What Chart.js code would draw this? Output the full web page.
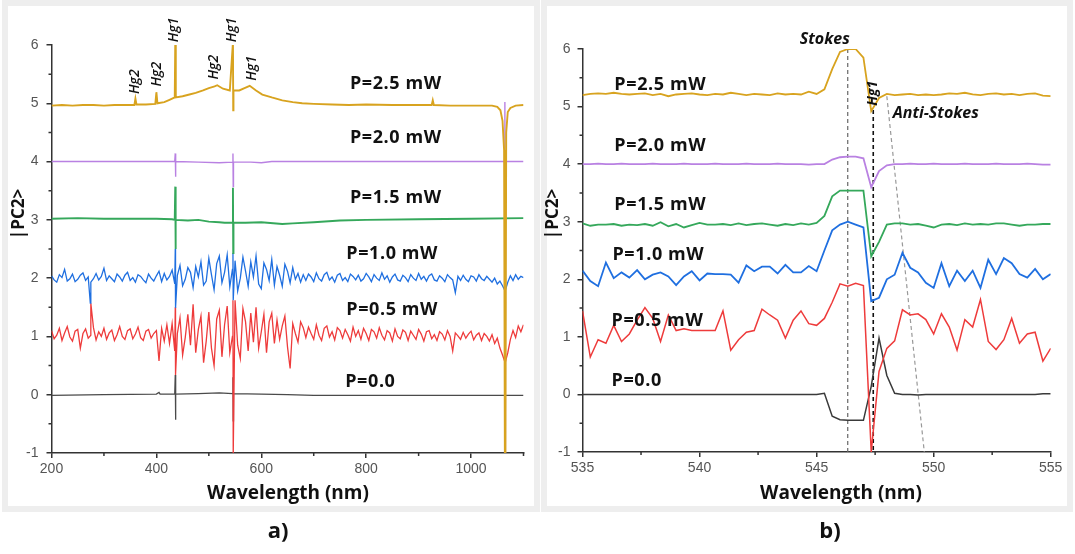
<!DOCTYPE html>
<html>
<head>
<meta charset="utf-8">
<script src="https://cdn.jsdelivr.net/npm/chart.js@4.4.1/dist/chart.umd.min.js"></script>
<style>
  body { margin: 0; width: 1075px; height: 554px; position: relative; overflow: hidden; background: #fff; }
  .frame { position: absolute; top: 0; height: 512px; box-sizing: border-box; border: 6px solid #eeeeee; background: #fff; }
  #frameA { left: 2px; width: 538px; }
  #frameB { left: 541px; width: 532px; }
  canvas { position: absolute; top: 0; }
  #chartA { left: 0; }
  #chartB { left: 540px; }
  .tag { position: absolute; top: 514px; width: 60px; text-align: center; font: bold 22px "Open Sans", sans-serif; color: #111; }
</style>
</head>
<body>
<div class="frame" id="frameA"></div>
<div class="frame" id="frameB"></div>
<canvas id="chartA" width="540" height="554"></canvas>
<canvas id="chartB" width="535" height="554"></canvas>
<div class="tag" style="left:248px">a)</div>
<div class="tag" style="left:800px">b)</div>
<script>
// ---------- panel a: full spectrum 200-1100 nm ----------
// noisy traces (1.0 mW and 0.5 mW) read every 5 nm from 200 nm
const gridStartA = 200, gridStepA = 5;
const blueA = [
  2.04, 1.97, 1.93, 2.06, 2.01, 2.15, 1.95, 1.99, 2.07, 1.94,
  1.98, 2.05, 2.09, 1.96, 2.02, 1.93, 1.99, 2.08, 1.97, 2.03,
  2.17, 1.96, 2.04, 1.99, 1.94, 2.07, 2.02, 1.95, 2.05, 2.1,
  1.96, 2.01, 1.93, 2.06, 2.03, 1.97, 1.92, 2.07, 2.0, 1.95,
  2.04, 2.12, 1.94, 2.08, 1.97, 2.03,
  2.14, 1.9, 2.05, 2.22, 1.87, 1.98, 2.18, 2.1, 1.84, 2.2,
  2.02, 2.28, 1.88, 1.95, 2.34, 2.06, 1.8, 2.25, 2.38, 1.92,
  2.1, 2.4, 1.85, 2.15, 2.3, 1.78, 2.0, 2.36, 2.12, 1.86,
  2.28, 2.02, 2.38, 1.9, 1.82, 2.26, 2.15, 1.96, 2.32, 1.88,
  2.2, 2.05, 1.86, 2.24, 2.12, 1.92, 2.18, 1.98, 2.08, 1.93,
  2.06,
  1.96, 2.07, 2.02, 1.94, 2.09, 1.99, 1.95, 2.06, 2.1, 1.97,
  2.02, 1.93, 2.05, 2.08, 1.96, 2.01, 1.94, 2.07, 2.03, 1.97,
  2.05, 1.95, 1.99, 2.08, 2.02, 1.94, 2.06, 2.0, 1.96, 2.09,
  1.98, 2.04, 1.93, 2.02, 2.07, 1.97, 1.95, 2.05, 2.01, 1.94,
  2.06, 2.0, 1.96, 2.08, 1.98, 2.03, 1.95, 2.04, 2.07, 1.97,
  1.95, 2.04, 2.0, 1.94, 2.06, 2.01, 1.97, 1.75, 2.03, 1.96,
  2.05, 1.98, 1.94, 2.04, 2.02, 1.95, 2.06, 1.99, 1.96, 2.03,
  1.98, 1.93, 2.0, 1.9, 1.95, 1.87, 1.78, 1.93, 2.04, 1.96,
  2.06, 1.98, 2.03, 2.01
];
const redA = [
  1.1, 0.96, 1.02, 1.14, 0.93, 1.06, 1.17, 0.99, 0.92, 1.09,
  1.12, 0.8, 1.05, 1.13, 0.97, 1.02, 1.15, 0.94, 1.08, 1.0,
  1.14, 0.95, 1.06, 1.11, 0.93, 1.03, 1.17, 1.0, 0.95, 1.1,
  1.13, 0.96, 1.04, 1.16, 0.98, 0.93, 1.09, 1.12, 0.97, 1.05,
  1.1, 0.58, 1.14, 0.92, 1.2, 0.88,
  1.22, 0.75, 1.05, 1.32, 0.68, 0.98, 1.38, 0.85, 1.55, 0.72,
  1.12, 1.35, 0.55, 0.92, 1.42, 0.8, 0.5, 1.3, 1.45, 0.65,
  1.2, 1.52, 0.72, 1.0, 1.62, 0.85, 0.62, 1.48, 1.25, 0.75,
  1.4, 0.9, 1.5, 0.8, 1.08, 1.38, 0.72, 1.25, 1.4, 0.88,
  1.28, 0.95, 1.18, 1.35, 0.82, 0.45, 1.22, 1.05, 0.9, 1.25,
  1.15,
  0.98, 1.16, 1.05, 0.95, 1.2, 1.02, 0.93, 1.14, 1.18, 0.99,
  1.08, 0.94, 1.15, 1.1, 0.97, 1.12, 1.03, 0.92, 1.16, 1.0,
  1.1, 0.95, 1.14, 1.05, 0.93, 1.12, 1.08, 0.97, 1.15, 1.02,
  0.94, 1.1, 1.06, 0.92, 1.13, 1.0, 0.96, 1.11, 1.07, 0.93,
  1.09, 1.02, 0.95, 1.12, 1.04, 0.92, 1.08, 1.1, 0.96, 1.03,
  0.93, 1.08, 1.04, 0.94, 1.1, 1.0, 0.75, 1.06, 1.01, 0.95,
  1.07, 0.97, 1.04, 1.09, 0.94, 1.02, 1.06, 0.93, 1.05, 1.0,
  0.92, 1.03, 0.88, 0.97, 0.8, 0.68, 0.55, 0.72, 0.95, 1.1,
  0.98, 1.18, 1.08, 1.2
];
// Hg lines that cut through the noisy traces [nm, value]
const blueSpikesA = [[274, 1.57], [436, 2.5], [436.5, 1.49], [546, 2.43], [546.5, 1.62]];
const redSpikesA = [[275, 1.57], [436, 1.5], [436.5, 0.34], [546, 1.62], [546.5, -1.05]];

// smoother traces as [nm, value]
const goldA = [
  [200, 4.96], [220, 4.97], [240, 4.96], [260, 4.97], [280, 4.97], [300, 4.96], [320, 4.97],
  [340, 4.97], [358, 4.97], [360, 5.08], [362, 4.98], [380, 4.98], [398, 4.99], [400, 5.19],
  [402, 5.0], [415, 5.02], [425, 5.06], [435, 5.1], [436, 6.05], [437, 5.1], [450, 5.12],
  [463, 5.15], [475, 5.18], [489, 5.22], [500, 5.26], [511, 5.29], [516, 5.31], [527, 5.25],
  [540, 5.22], [546, 6.05], [546.5, 4.88], [547, 5.22], [558, 5.22], [568, 5.26], [578, 5.3],
  [590, 5.22], [602, 5.15], [620, 5.1], [640, 5.05], [660, 5.02], [678, 5.0], [700, 4.99],
  [735, 4.98], [767, 4.97], [800, 4.98], [850, 4.97], [900, 4.97], [925, 4.97], [927, 5.05],
  [929, 4.97], [960, 4.96], [1000, 4.96], [1040, 4.96], [1050, 4.94], [1056, 4.88],
  [1060, 4.7], [1063, 4.2], [1064.5, -1.2], [1065.5, -1.2], [1067, 4.5], [1070, 4.85],
  [1075, 4.92], [1085, 4.96], [1100, 4.97]
];
const purpleA = [
  [200, 4.0], [300, 4.0], [400, 4.0], [435, 4.0], [436, 4.14], [436.5, 3.74], [437, 4.0],
  [480, 3.99], [520, 3.98], [545, 3.99], [546, 4.14], [546.5, 3.57], [547, 3.99], [580, 3.99],
  [600, 3.98], [620, 4.0], [700, 4.0], [800, 4.0], [900, 4.0], [1000, 4.0], [1064, 4.0],
  [1064.5, 5.02], [1065, -1.2], [1065.5, 4.0], [1100, 4.0]
];
const greenA = [
  [200, 3.02], [250, 3.03], [300, 3.02], [350, 3.02], [400, 3.02], [430, 3.01], [435, 3.0],
  [436, 3.57], [436.5, 2.5], [437, 3.0], [460, 2.99], [480, 3.0], [500, 2.97], [520, 2.96],
  [530, 2.95], [545, 2.95], [546, 3.55], [546.5, 2.43], [547, 2.95], [570, 2.95], [600, 2.96],
  [640, 2.93], [660, 2.94], [700, 2.96], [750, 2.99], [800, 3.0], [900, 3.01], [1000, 3.02],
  [1100, 3.03]
];
const grayA = [
  [200, -0.01], [300, 0.0], [400, 0.01], [405, 0.04], [407, 0.01], [435, 0.01], [436, 0.34],
  [436.5, -0.43], [437, 0.01], [480, 0.02], [520, 0.03], [545, 0.02], [546, 0.3], [546.5, -0.45],
  [547, 0.02], [600, 0.01], [650, 0.0], [700, -0.01], [800, -0.01], [900, -0.01],
  [1000, -0.01], [1100, -0.01]
];
const xMinorA = [300, 500, 700, 900, 1100];
const yMinor = [-0.5, 0.5, 1.5, 2.5, 3.5, 4.5, 5.5];

// ---------- panel b: 535-555 nm around the 546 nm line ----------
const gridStartB = 535, gridStepB = 1 / 3;
const goldB = [
  5.20, 5.22, 5.23, 5.22, 5.24, 5.22, 5.21, 5.22, 5.23, 5.20, 5.22, 5.18, 5.21, 5.22, 5.23, 5.21,
  5.20, 5.22, 5.21, 5.24, 5.22, 5.20, 5.22, 5.21, 5.20, 5.23, 5.21, 5.22, 5.21, 5.26, 5.22,
  5.30, 5.65, 5.95, 6.0, 6.0, 5.85, 4.92, 5.15, 5.22,
  5.20, 5.21, 5.22, 5.20, 5.21, 5.20, 5.21, 5.23, 5.22, 5.24, 5.21, 5.20, 5.22, 5.23, 5.21,
  5.22, 5.20, 5.22, 5.23, 5.19, 5.18
];
const purpleB = [
  4.0, 4.0, 4.01, 4.0, 4.0, 4.01, 4.0, 4.0, 4.0, 4.01, 4.0, 4.0, 4.0, 4.01, 4.0, 4.0,
  4.0, 4.01, 4.0, 4.0, 4.0, 4.01, 4.0, 4.0, 4.0, 4.01, 4.0, 4.0, 4.0, 3.99, 4.0,
  4.0, 4.08, 4.12, 4.13, 4.13, 4.1, 3.6, 3.88, 3.98,
  4.0, 4.0, 4.01, 4.0, 4.0, 4.01, 4.0, 4.0, 4.0, 4.01, 4.0, 4.0, 4.0, 4.01, 4.0,
  4.0, 4.0, 4.01, 4.0, 3.99, 3.99
];
const greenB = [
  2.97, 2.93, 2.95, 2.95, 2.96, 2.93, 2.95, 2.94, 2.96, 2.93, 2.99, 2.92, 2.96, 2.9, 2.94, 2.98,
  2.95, 2.95, 2.96, 2.94, 2.97, 2.94, 2.96, 2.97, 2.95, 2.93, 2.96, 2.94, 2.97, 2.95, 2.98,
  3.1, 3.44, 3.54, 3.54, 3.54, 3.54, 2.4, 2.65, 2.95,
  2.97, 2.97, 2.95, 2.96, 2.93, 2.9, 2.95, 2.96, 2.94, 2.97, 2.95, 2.96, 2.95, 2.97, 2.97,
  2.95, 2.93, 2.95, 2.95, 2.96, 2.96
];
const blueB = [
  2.15, 1.97, 1.88, 2.29, 2.02, 2.12, 2.03, 2.16, 2.0, 2.08, 2.12, 2.05, 1.9, 2.05, 2.14, 1.98,
  2.1, 2.09, 2.09, 2.08, 1.94, 2.24, 2.14, 2.22, 2.22, 2.1, 2.25, 2.12, 2.12, 2.23, 2.14,
  2.5, 2.85, 2.95, 3.0, 2.95, 2.9, 1.62, 1.68, 2.0,
  2.08, 2.46, 2.2, 2.12, 1.94, 1.85, 2.28, 1.88, 2.15, 1.97, 2.15, 1.85, 2.34, 2.09, 2.37,
  2.28, 2.09, 2.03, 2.18, 2.0, 2.09
];
const redB = [
  1.45, 0.65, 0.95, 0.89, 1.2, 0.92, 1.05, 1.29, 1.51, 1.32, 0.92, 1.38, 1.11, 1.14, 1.11, 1.11,
  1.11, 1.11, 1.45, 0.77, 0.95, 1.08, 1.11, 1.48, 1.38, 1.29, 0.98, 1.29, 1.45, 1.23, 1.2,
  1.32, 1.6, 1.92, 1.88, 1.93, 1.89, -1.0, 0.4, 0.8,
  0.93, 1.47, 1.38, 1.4, 1.3, 1.05, 1.4, 1.17, 0.77, 1.3, 1.17, 1.65, 0.92, 0.78, 0.95,
  1.32, 0.89, 1.05, 1.08, 0.58, 0.8
];
const grayB = [
  0.0, 0.0, 0.0, 0.0, 0.0, 0.0, 0.0, 0.0, 0.0, 0.0, 0.0, 0.0, 0.0, 0.0, 0.0, 0.0,
  0.0, 0.0, 0.0, 0.0, 0.0, 0.0, 0.0, 0.0, 0.0, 0.0, 0.0, 0.0, 0.0, 0.0, 0.0,
  0.02, -0.38, -0.44, -0.45, -0.45, -0.45, 0.14, 0.98, 0.33,
  0.02, 0.0, 0.0, -0.01, 0.0, 0.0, 0.0, 0.0, 0.0, 0.0, 0.0, 0.0, 0.0, 0.0, 0.0,
  0.0, 0.0, 0.0, 0.0, 0.01, 0.01
];
const stokesLine = [[546.33, 6.0], [546.33, -1.0]];
const hgLine = [[547.42, 4.94], [547.42, -1.0]];
const antiStokesLine = [[548.0, 5.18], [549.6, -1.0]];
const xMinorB = [537.5, 542.5, 547.5, 552.5];

const powerLabels = ['P=2.5 mW', 'P=2.0 mW', 'P=1.5 mW', 'P=1.0 mW', 'P=0.5 mW', 'P=0.0'];
const colors = ['#d8a31f', '#b981e2', '#35a85b', '#1f6fe0', '#ee3b3b', '#4a4a4a'];

// helpers to turn the arrays into chart points
function pairPts(pairs) {
    return pairs.map(p => ({ x: p[0], y: p[1] }));
}
function gridPts(start, step, vals, spikes) {
    const pts = vals.map((v, i) => ({ x: start + i * step, y: v }));
    (spikes || []).forEach(p => pts.push({ x: p[0], y: p[1] }));
    return pts.sort((a, b) => a.x - b.x);
}
function line(points, color, width, extra) {
    return Object.assign({
        data: points, borderColor: color, borderWidth: width,
        pointRadius: 0, tension: 0, fill: false
    }, extra || {});
}

const tickFont = { family: 'Liberation Sans', size: 14 };
const boldFont = 'bold 18px "Open Sans"';
const titleFont = 'bold 19px "Open Sans"';
const hgFont = 'italic 600 14px "Open Sans"';

// minor tick marks (shorter than the major ones)
function minorTicks(xs, ys) {
    return {
        id: 'minorTicks',
        afterDraw(chart) {
            const { ctx, chartArea, scales } = chart;
            ctx.save();
            ctx.strokeStyle = '#333';
            ctx.lineWidth = 1.5;
            ctx.beginPath();
            xs.forEach(v => {
                const px = scales.x.getPixelForValue(v);
                ctx.moveTo(px, chartArea.bottom);
                ctx.lineTo(px, chartArea.bottom + 3);
            });
            ys.forEach(v => {
                const py = scales.y.getPixelForValue(v);
                ctx.moveTo(chartArea.left, py);
                ctx.lineTo(chartArea.left - 3, py);
            });
            ctx.stroke();
            ctx.restore();
        }
    };
}

// text annotations; pixel:true means canvas coordinates, else data coordinates
function notes(items) {
    return {
        id: 'notes',
        afterDraw(chart) {
            const { ctx, scales } = chart;
            items.forEach(n => {
                const px = n.pixel ? n.x : scales.x.getPixelForValue(n.x);
                const py = n.pixel ? n.y : scales.y.getPixelForValue(n.y);
                ctx.save();
                ctx.translate(px, py);
                if (n.rot) ctx.rotate(n.rot * Math.PI / 180);
                ctx.font = n.font;
                if (n.spacing) ctx.letterSpacing = n.spacing;
                ctx.fillStyle = n.color || '#111';
                ctx.textAlign = n.align || 'left';
                ctx.textBaseline = 'middle';
                ctx.fillText(n.text, 0, 0);
                ctx.restore();
            });
        }
    };
}

function axisOpts(min, max, step, size, isX, pad) {
    return {
        type: 'linear', min: min, max: max,
        afterFit: s => { if (isX) s.height = size; else s.width = size; },
        border: { color: '#333', width: 1.5 },
        grid: { drawOnChartArea: false, drawTicks: true, tickLength: 5, color: '#333', lineWidth: 1.5 },
        ticks: {
            stepSize: step, includeBounds: false, padding: pad, color: '#555', font: tickFont,
            maxRotation: 0, autoSkip: false, callback: v => String(v)
        }
    };
}

function makeChart(id, datasets, cfg, plugins) {
    return new Chart(document.getElementById(id), {
        type: 'line',
        data: { datasets: datasets },
        options: {
            responsive: false, animation: false, events: [],
            layout: { autoPadding: false, padding: cfg.padding },
            plugins: { legend: { display: false }, tooltip: { enabled: false } },
            scales: {
                x: axisOpts(cfg.xMin, cfg.xMax, cfg.xStep, cfg.xHeight, true, 3),
                y: axisOpts(-1, 6, 1, cfg.yWidth, false, cfg.yPad)
            }
        },
        plugins: plugins
    });
}

// ---- chart a ----
const dsA = [
    line(pairPts(goldA), colors[0], 1.9),
    line(pairPts(purpleA), colors[1], 1.4),
    line(pairPts(greenA), colors[2], 1.9),
    line(gridPts(gridStartA, gridStepA, blueA, blueSpikesA), colors[3], 1.3),
    line(gridPts(gridStartA, gridStepA, redA, redSpikesA), colors[4], 1.3),
    line(pairPts(grayA), colors[5], 1.3)
];
const pA = (i, x, y) => ({ text: powerLabels[i], x: x, y: y, font: boldFont, spacing: '0.6px' });
const notesA = [
    pA(0, 769, 5.33), pA(1, 769, 4.41), pA(2, 769, 3.37),
    pA(3, 762, 2.42), pA(4, 762, 1.46), pA(5, 760, 0.22),
    { text: 'Hg2', x: 359, y: 5.37, rot: -90, align: 'center', font: hgFont },
    { text: 'Hg2', x: 401, y: 5.5, rot: -90, align: 'center', font: hgFont },
    { text: 'Hg1', x: 434, y: 6.26, rot: -90, align: 'center', font: hgFont },
    { text: 'Hg2', x: 509, y: 5.62, rot: -90, align: 'center', font: hgFont },
    { text: 'Hg1', x: 544, y: 6.26, rot: -90, align: 'center', font: hgFont },
    { text: 'Hg1', x: 583, y: 5.6, rot: -90, align: 'center', font: hgFont },
    { text: 'Wavelength (nm)', x: 288, y: 494, pixel: true, align: 'center', font: titleFont },
    { text: '|PC2>', x: 19, y: 214, pixel: true, rot: -90, align: 'center', font: 'bold 17px "Open Sans"' }
];
makeChart('chartA', dsA, {
    padding: { left: 0, right: 16.5, top: 45, bottom: 0 },
    xMin: 200, xMax: 1100, xStep: 200, xHeight: 101, yWidth: 51.5, yPad: 8
}, [minorTicks(xMinorA, yMinor), notes(notesA)]);

// ---- chart b ----
const dash = { borderDash: [4, 3] };
const dsB = [
    line(gridPts(gridStartB, gridStepB, goldB), colors[0], 1.8),
    line(gridPts(gridStartB, gridStepB, purpleB), colors[1], 1.8),
    line(gridPts(gridStartB, gridStepB, greenB), colors[2], 1.8),
    line(gridPts(gridStartB, gridStepB, blueB), colors[3], 1.8),
    line(gridPts(gridStartB, gridStepB, redB), colors[4], 1.5),
    line(gridPts(gridStartB, gridStepB, grayB), '#3a3a3a', 1.5),
    line(pairPts(stokesLine), '#666', 1.2, dash),
    line(pairPts(hgLine), '#111', 1.6, dash),
    line(pairPts(antiStokesLine), '#999', 1.2, dash)
];
const notesB = [
    pA(0, 536.36, 5.38), pA(1, 536.36, 4.31), pA(2, 536.36, 3.3),
    pA(3, 536.28, 2.42), pA(4, 536.24, 1.27), pA(5, 536.24, 0.23),
    { text: 'Stokes', x: 545.35, y: 6.17, align: 'center', font: 'italic bold 16px "Open Sans"' },
    { text: 'Anti-Stokes', x: 550.09, y: 4.88, align: 'center', font: 'italic bold 16px "Open Sans"' },
    { text: 'Hg1', x: 547.39, y: 5.23, rot: -90, align: 'center', font: 'italic bold 14px "Open Sans"' },
    { text: 'Wavelength (nm)', x: 301, y: 494, pixel: true, align: 'center', font: titleFont },
    { text: '|PC2>', x: 13, y: 214, pixel: true, rot: -90, align: 'center', font: 'bold 17px "Open Sans"' }
];
makeChart('chartB', dsB, {
    padding: { left: 0, right: 24.3, top: 49, bottom: 0 },
    xMin: 535, xMax: 555, xStep: 5, xHeight: 102, yWidth: 42.5, yPad: 7
}, [minorTicks(xMinorB, yMinor), notes(notesB)]);
</script>
</body>
</html>
